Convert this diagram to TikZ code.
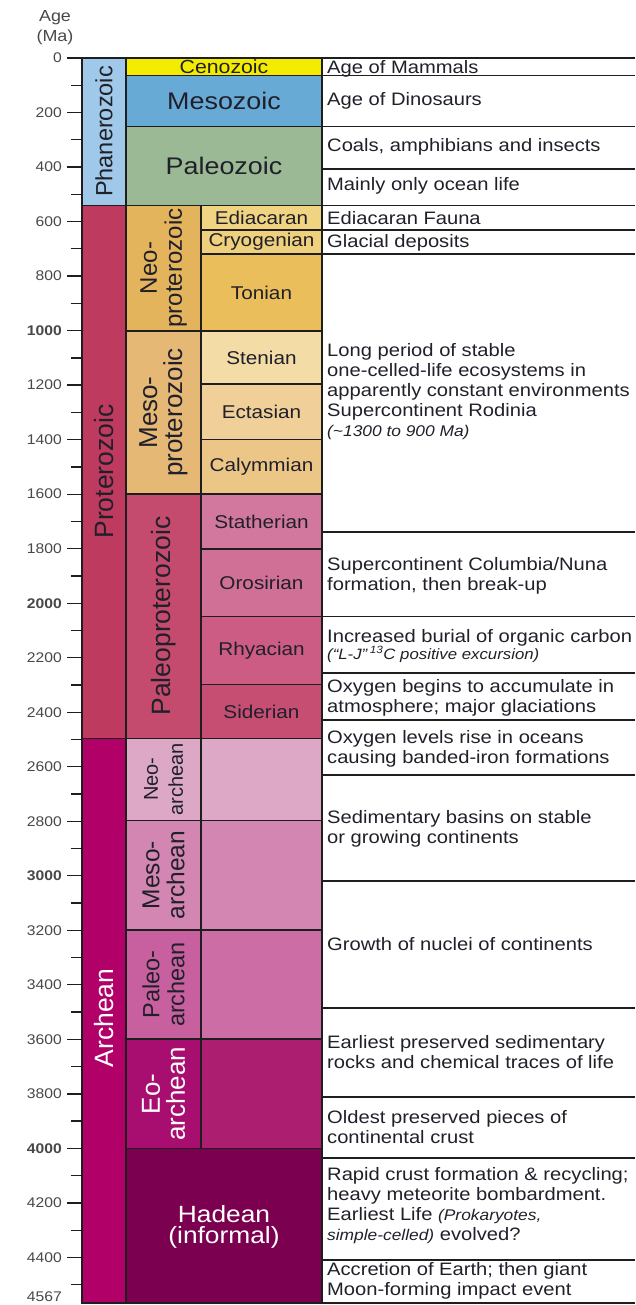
\documentclass[tikz,border=0pt]{standalone}
\usepackage{fontspec}
\setmainfont{Liberation Sans}[FakeStretch=1.12]
\newfontfamily\rotfont{Liberation Sans}

\definecolor{linec}{HTML}{1E1E1E}
\definecolor{textc}{HTML}{20202A}
\definecolor{axisc}{HTML}{484848}
\definecolor{phanero}{HTML}{A0C8E8}
\definecolor{ceno}{HTML}{F3EC00}
\definecolor{meso}{HTML}{68AAD6}
\definecolor{paleo}{HTML}{9BB994}
\definecolor{protero}{HTML}{BE3A5F}
\definecolor{neoprot}{HTML}{E4B45C}
\definecolor{ediac}{HTML}{F0D482}
\definecolor{cryo}{HTML}{EFD07C}
\definecolor{tonian}{HTML}{EABE5A}
\definecolor{mesoprot}{HTML}{E6B876}
\definecolor{stenian}{HTML}{F3DCA6}
\definecolor{ectas}{HTML}{F0D098}
\definecolor{calym}{HTML}{ECC687}
\definecolor{paleoprot}{HTML}{C44A6E}
\definecolor{stather}{HTML}{D2789E}
\definecolor{orosir}{HTML}{D07096}
\definecolor{rhyac}{HTML}{CC5C84}
\definecolor{sider}{HTML}{C64E72}
\definecolor{archean}{HTML}{B20069}
\definecolor{neoarch}{HTML}{DCA8C6}
\definecolor{mesoarch}{HTML}{D486B2}
\definecolor{paleoarch}{HTML}{C860A0}
\definecolor{paleoarchB}{HTML}{CC6EA5}
\definecolor{eoarch}{HTML}{A80E70}
\definecolor{eoarchB}{HTML}{AC1E70}
\definecolor{hadean}{HTML}{7C0050}

\begin{document}
\begin{tikzpicture}[
    x=1pt, y=-1pt,
    % Styles
    cellbox/.style={draw=linec, line width=1.3pt, fill=#1},
    ruleline/.style={draw=linec, line width=1.3pt},
    agelabel/.style={anchor=east, inner sep=0pt, text=axisc, font=\fontsize{14}{16}\selectfont},
    eonlabel/.style={rotate=90, inner sep=0pt, text=textc, font=\rotfont\fontsize{#1}{#1}\selectfont},
    eralabel/.style={rotate=90, inner sep=0pt, align=center, text=textc, font=\rotfont\fontsize{#1}{25}\selectfont},
    erahoriz/.style={inner sep=0pt, align=center, text=textc, font=\fontsize{#1}{21}\selectfont},
    periodlabel/.style={inner sep=0pt, text=textc, font=\fontsize{18.5}{20}\selectfont},
    desctext/.style={anchor=north west, inner sep=0pt, align=left, text=textc, font=\fontsize{18}{20}\selectfont}
]
\useasboundingbox (0,0) rectangle (635,1305);

% --- Axis ---
\node[anchor=north, inner sep=0pt, align=center, text=axisc, font=\fontsize{16}{20}\selectfont] (axistitle) at (55,7.7) {\strut Age\\(Ma)};
\foreach \a in {0,200,...,4400}
    \draw[ruleline] (67,{58+0.2726*\a}) -- (82,{58+0.2726*\a});
\foreach \a in {100,300,...,4500}
    \draw[ruleline] (71,{58+0.2726*\a}) -- (82,{58+0.2726*\a});
\node[agelabel] (age0) at (62,58) {0};
\foreach \a in {200,400,...,4400} {
    \pgfmathtruncatemacro\rem{mod(\a,1000)}
    \node[agelabel] (age\a) at (62,{58+0.2726*\a}) {\ifnum\rem=0 \bfseries\fi\a};
}
\node[agelabel] (age4567) at (62,1297) {4567};

% --- Eons ---
\draw[cellbox=phanero] (82,58) rectangle (126,205.5);
\draw[cellbox=protero] (82,205.5) rectangle (126,738.5);
\draw[cellbox=archean] (82,738.5) rectangle (126,1303);
\node[eonlabel=23.5] (phanerozoic) at (104,131.5) {Phanerozoic};
\node[eonlabel=26.5] (proterozoic) at (104,471.5) {Proterozoic};
\node[eonlabel=26.5, text=white] (archeanlbl) at (104,1018) {Archean};

% --- Phanerozoic eras ---
\draw[cellbox=ceno] (126,58) rectangle (322,75.5);
\draw[cellbox=meso] (126,75.5) rectangle (322,126.5);
\draw[cellbox=paleo] (126,126.5) rectangle (322,205.5);
\node[erahoriz=19] (cenozoic) at (224,67) {Cenozoic};
\node[erahoriz=24] (mesozoic) at (224,101) {Mesozoic};
\node[erahoriz=24] (paleozoic) at (224,166) {Paleozoic};

% --- Proterozoic eras ---
\draw[cellbox=neoprot] (126,205.5) rectangle (201,331);
\draw[cellbox=mesoprot] (126,331) rectangle (201,494);
\draw[cellbox=paleoprot] (126,494) rectangle (201,738.5);
\node[eralabel=24] (neoprotlbl) at (163.5,268) {Neo-\\proterozoic};
\node[eralabel=26] (mesoprotlbl) at (163.5,412.5) {Meso-\\proterozoic};
\node[eralabel=26.5] (paleoprotlbl) at (163.5,616) {Paleoproterozoic};

% --- Proterozoic periods ---
\draw[cellbox=ediac] (201,205.5) rectangle (322,230);
\draw[cellbox=cryo] (201,230) rectangle (322,254);
\draw[cellbox=tonian] (201,254) rectangle (322,331);
\draw[cellbox=stenian] (201,331) rectangle (322,384);
\draw[cellbox=ectas] (201,384) rectangle (322,439.5);
\draw[cellbox=calym] (201,439.5) rectangle (322,494);
\draw[cellbox=stather] (201,494) rectangle (322,549);
\draw[cellbox=orosir] (201,549) rectangle (322,616.5);
\draw[cellbox=rhyac] (201,616.5) rectangle (322,684.5);
\draw[cellbox=sider] (201,684.5) rectangle (322,738.5);
\node[periodlabel] (ediacaran) at (261.5,217.75) {Ediacaran};
\node[periodlabel] (cryogenian) at (261.5,242) {Cryogenian};
\node[periodlabel] (toniannode) at (261.5,292.5) {Tonian};
\node[periodlabel] (steniannode) at (261.5,357.5) {Stenian};
\node[periodlabel] (ectasian) at (261.5,411.75) {Ectasian};
\node[periodlabel] (calymmian) at (261.5,466.75) {Calymmian};
\node[periodlabel] (statherian) at (261.5,521.5) {Statherian};
\node[periodlabel] (orosirian) at (261.5,582.75) {Orosirian};
\node[periodlabel] (rhyacian) at (261.5,650.5) {Rhyacian};
\node[periodlabel] (siderian) at (261.5,711.5) {Siderian};

% --- Archean eras ---
\draw[cellbox=neoarch] (126,738.5) rectangle (201,820.5);
\draw[cellbox=neoarch] (201,738.5) rectangle (322,820.5);
\draw[cellbox=mesoarch] (126,820.5) rectangle (201,930);
\draw[cellbox=mesoarch] (201,820.5) rectangle (322,930);
\draw[cellbox=paleoarch] (126,930) rectangle (201,1039);
\draw[cellbox=paleoarchB] (201,930) rectangle (322,1039);
\draw[cellbox=eoarch] (126,1039) rectangle (201,1148.5);
\draw[cellbox=eoarchB] (201,1039) rectangle (322,1148.5);
\node[eralabel=20] (neoarchlbl) at (163.5,779) {Neo-\\archean};
\node[eralabel=24.5] (mesoarchlbl) at (163.5,875) {Meso-\\archean};
\node[eralabel=23.5] (paleoarchlbl) at (163.5,984.5) {Paleo-\\archean};
\node[eralabel=26, text=white] (eoarchlbl) at (163.5,1094) {Eo-\\archean};

% --- Hadean ---
\draw[cellbox=hadean] (126,1148.5) rectangle (322,1303);
\node[erahoriz=23.5, text=white] (hadeanlbl) at (224,1227) {Hadean\\(informal)};

% --- Event column ---
\draw[ruleline] (67,58) -- (635,58);
\foreach \r in {75.5,126.5,169,205.5,230,254,532,616.5,673,720,775,881,1008,1097,1158,1260}
    \draw[ruleline] (322,\r) -- (635,\r);
\draw[ruleline] (82,1303) -- (635,1303);

\node[desctext] (mammals) at (327,59) {\strut Age of Mammals};
\node[desctext] (dinosaurs) at (327,91) {\strut Age of Dinosaurs};
\node[desctext] (coals) at (327,137.7) {\strut Coals, amphibians and insects};
\node[desctext] (oceanlife) at (327,176) {\strut Mainly only ocean life};
\node[desctext] (fauna) at (327,210) {\strut Ediacaran Fauna};
\node[desctext] (glacial) at (327,233) {\strut Glacial deposits};
\node[desctext] (rodinia) at (327,342.7) {\strut Long period of stable\\one-celled-life ecosystems in\\apparently constant environments\\Supercontinent Rodinia\\{\fontsize{15.5}{20}\selectfont\itshape (\textasciitilde 1300 to 900 Ma)}};
\node[desctext] (columbia) at (327,556) {\strut Supercontinent Columbia/Nuna\\formation, then break-up};
\node[desctext] (burial) at (327,628) {\strut Increased burial of organic carbon\\[-3pt]{\fontsize{15}{20}\selectfont\itshape (``L-J''\,\textsuperscript{13}C positive excursion)}};
\node[desctext] (oxyatmos) at (327,678) {\strut Oxygen begins to accumulate in\\atmosphere; major glaciations};
\node[desctext] (oxyocean) at (327,729) {\strut Oxygen levels rise in oceans\\causing banded-iron formations};
\node[desctext] (basins) at (327,809) {\strut Sedimentary basins on stable\\or growing continents};
\node[desctext] (nuclei) at (327,936) {\strut Growth of nuclei of continents};
\node[desctext] (traces) at (327,1034) {\strut Earliest preserved sedimentary\\rocks and chemical traces of life};
\node[desctext] (crust) at (327,1109) {\strut Oldest preserved pieces of\\continental crust};
\node[desctext] (recycling) at (327,1166) {\strut Rapid crust formation \& recycling;\\heavy meteorite bombardment.\\Earliest Life {\fontsize{15.5}{20}\selectfont\itshape (Prokaryotes,}\\{\fontsize{15.5}{20}\selectfont\itshape simple-celled)} evolved?};
\node[desctext] (accretion) at (327,1261) {\strut Accretion of Earth; then giant\\Moon-forming impact event};

\end{tikzpicture}
\end{document}
